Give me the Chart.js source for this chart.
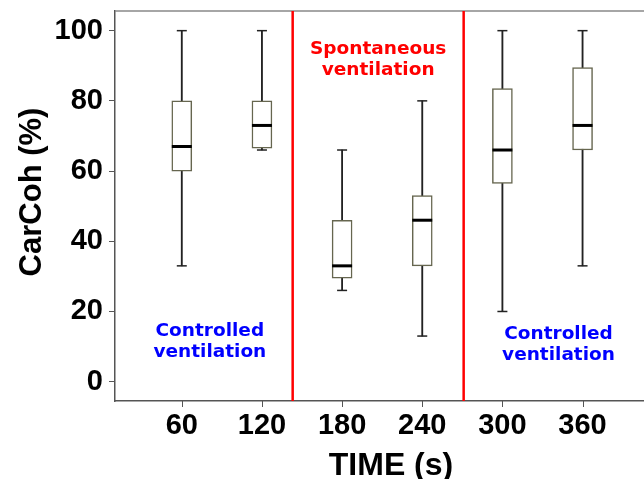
<!DOCTYPE html>
<html>
<head>
<meta charset="utf-8">
<script src="https://cdn.jsdelivr.net/npm/chart.js@4"></script>
<style>
  body { margin: 0; background: #fff; }
</style>
</head>
<body>
<canvas id="boxChart" width="644" height="479"></canvas>
<script>
// box plot values
const times = [60, 120, 180, 240, 300, 360];
const whiskerLow = [33, 66, 26, 13, 20, 33];
const q1 = [60, 66.5, 29.5, 33, 56.5, 66];
const medians = [67, 73, 33, 46, 66, 73];
const q3 = [80, 80, 46, 53, 83.5, 89.5];
const whiskerHigh = [100, 100, 66, 80, 100, 100];
const xTicks = [60, 120, 180, 240, 300, 360];
const yTicks = [0, 20, 40, 60, 80, 100];
const phaseBounds = [143, 271];

const notes = [
  { lines: ["Controlled", "ventilation"], x: 81, y: 14.5, color: "#0000ff" },
  { lines: ["Spontaneous", "ventilation"], x: 207, y: 94.6, color: "#ff0000" },
  { lines: ["Controlled", "ventilation"], x: 342, y: 13.4, color: "#0000ff" }
];

const noPad = s => {
  s.paddingTop = 0;
  s.paddingBottom = 0;
  s.paddingLeft = 0;
  s.paddingRight = 0;
};

const extras = {
  id: "extras",
  afterDatasetsDraw(chart) {
    const { ctx, chartArea: a, scales: { x, y } } = chart;
    ctx.save();
    // top frame line
    ctx.strokeStyle = "#888";
    ctx.lineWidth = 1.5;
    ctx.beginPath();
    ctx.moveTo(a.left, a.top);
    ctx.lineTo(a.right, a.top);
    ctx.stroke();
    // x tick marks
    ctx.strokeStyle = "#555";
    ctx.lineWidth = 1;
    xTicks.forEach(v => {
      const px = Math.round(x.getPixelForValue(v)) + 0.5;
      ctx.beginPath();
      ctx.moveTo(px, a.bottom);
      ctx.lineTo(px, a.bottom + 6);
      ctx.stroke();
    });
    // phase separators
    ctx.strokeStyle = "#ff0000";
    ctx.lineWidth = 2.5;
    phaseBounds.forEach(v => {
      const px = x.getPixelForValue(v);
      ctx.beginPath();
      ctx.moveTo(px, a.top);
      ctx.lineTo(px, a.bottom);
      ctx.stroke();
    });
    // text notes
    ctx.font = "bold 18.5px 'DejaVu Sans'";
    ctx.textAlign = "center";
    ctx.textBaseline = "middle";
    notes.forEach(n => {
      ctx.fillStyle = n.color;
      const px = x.getPixelForValue(n.x);
      const py = y.getPixelForValue(n.y);
      n.lines.forEach((t, i) => ctx.fillText(t, px, py + i * 21));
    });
    // axis titles
    ctx.fillStyle = "#000";
    ctx.font = "bold 32px 'Liberation Sans'";
    ctx.textBaseline = "alphabetic";
    ctx.fillText("TIME (s)", 391, 475);
    ctx.translate(41, 192);
    ctx.rotate(-Math.PI / 2);
    ctx.font = "bold 31px 'Liberation Sans'";
    ctx.fillText("CarCoh (%)", 0, 0);
    ctx.restore();
  }
};

const ctx = document.getElementById("boxChart").getContext("2d");

new Chart(ctx, {
  type: "bar",
  data: {
    datasets: [
      {
        type: "scatter",
        label: "median",
        data: times.map((t, i) => ({ x: t, y: medians[i] })),
        pointStyle: "line",
        pointRadius: 10,
        pointBorderWidth: 3,
        borderColor: "#000",
        order: 0
      },
      {
        type: "scatter",
        label: "caps",
        data: times.map((t, i) => ({ x: t, y: whiskerLow[i] }))
          .concat(times.map((t, i) => ({ x: t, y: whiskerHigh[i] }))),
        pointStyle: "line",
        pointRadius: 5,
        pointBorderWidth: 1.5,
        borderColor: "#222",
        order: 1
      },
      {
        label: "box",
        data: times.map((t, i) => ({ x: t, y: [q1[i], q3[i]] })),
        backgroundColor: "#fff",
        borderColor: "#66664f",
        borderWidth: 1.5,
        borderSkipped: false,
        barThickness: 20,
        grouped: false,
        order: 2
      },
      {
        label: "whisker",
        data: times.map((t, i) => ({ x: t, y: [whiskerLow[i], whiskerHigh[i]] })),
        backgroundColor: "#222",
        borderWidth: 0,
        barThickness: 1.2,
        grouped: false,
        order: 3
      }
    ]
  },
  options: {
    responsive: false,
    animation: false,
    layout: { autoPadding: false, padding: { top: 11, right: 0, left: 0, bottom: 0 } },
    plugins: { legend: { display: false }, tooltip: { enabled: false } },
    scales: {
      x: {
        type: "linear",
        min: 10,
        max: 406,
        offset: false,
        afterBuildTicks: s => { s.ticks = xTicks.map(v => ({ value: v })); },
        afterFit: s => { s.height = 78; noPad(s); },
        grid: { offset: false, drawOnChartArea: false, drawTicks: false },
        border: { color: "#555", width: 1.5 },
        ticks: {
          color: "#000",
          padding: 8,
          font: { family: "'Liberation Sans'", size: 29, weight: "bold" }
        }
      },
      y: {
        min: -5.5,
        max: 105.6,
        afterBuildTicks: s => { s.ticks = yTicks.map(v => ({ value: v })); },
        afterFit: s => { s.width = 115; noPad(s); },
        grid: { drawOnChartArea: false, tickLength: 6, color: "#555" },
        border: { color: "#555", width: 1.5 },
        ticks: {
          color: "#000",
          padding: 6,
          font: { family: "'Liberation Sans'", size: 29, weight: "bold" }
        }
      }
    }
  },
  plugins: [extras]
});
</script>
</body>
</html>
